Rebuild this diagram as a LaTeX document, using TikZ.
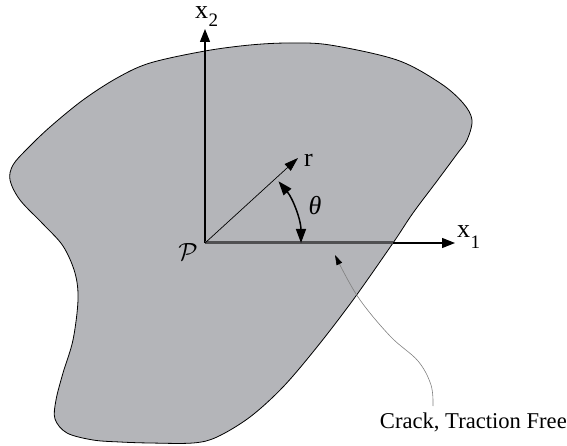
\documentclass[tikz,border=0pt]{standalone}
\usepackage{fontspec}
\setmainfont{Liberation Serif}
\usetikzlibrary{arrows.meta}
\definecolor{blobfill}{RGB}{180,181,185}
\definecolor{crackcol}{RGB}{80,80,82}
\tikzset{
  axisline/.style={line width=1.1pt,-{Triangle[length=13pt,width=10pt]}},
  rline/.style={line width=0.7pt,-{Triangle[length=14pt,width=9pt]}},
  arcline/.style={line width=1.5pt,{Triangle[length=14pt,width=10pt]}-{Triangle[length=14pt,width=10pt]}},
  leader/.style={line width=0.6pt,color=black!50,-{Triangle[length=10pt,width=6pt,color=black]}},
  lbl/.style={inner sep=0pt,anchor=base west,font=\fontsize{26}{30}\selectfont},
  subl/.style={inner sep=0pt,anchor=base west,font=\fontsize{19}{22}\selectfont},
}
\begin{document}
\begin{tikzpicture}[x=1pt,y=-1pt]
\useasboundingbox (0,0) rectangle (567,446);
% body
\draw[line width=0.8pt,fill=blobfill] plot[smooth cycle,tension=0.55] coordinates {
(289,43) (330,45) (397,60) (440,83) (463,103) (472,120) (467,140) (457,154)
(437,181) (413,213) (393,243) (353,300) (317,347) (283,387) (250,417) (217,437)
(193,443) (150,443) (120,442) (93,440) (67,433) (55,419) (56,400) (63,373)
(73,340) (78,300) (75,273) (63,246) (43,224) (20,200) (10,180) (13,165)
(27,149) (50,127) (83,100) (117,78) (150,63) (205,51) (250,45)};
% coordinates
\coordinate (O) at (205,243);
\coordinate (X2) at (205,29);
\coordinate (X1) at (455,243);
\coordinate (CE) at (393,243);
\coordinate (R) at (298,158);
\coordinate (TA) at (301,243);
\coordinate (TB) at (278.5,181.3);
\coordinate (LT) at (335,255);
% axes
\draw[axisline] (O) -- (X2);
\draw[axisline] (O) -- (X1);
\draw[line width=3pt,color=crackcol] (O) -- (CE);
\draw[rline] (O) -- (R);
\draw[arcline] (TB) .. controls (293.0,198.6) and (301,220.4) .. (TA);
% labels
\node[lbl] (lx2) at (195,19) {x};
\node[subl] (lx2s) at (208.5,27) {2};
\node[lbl] (lx1) at (457,238) {x};
\node[subl] (lx1s) at (470.5,248) {1};
\node[lbl] (lr) at (304,167) {r};
\node[lbl,anchor=center] (lth) at (315,206) {\textit{θ}};
\node[inner sep=0pt,font=\fontsize{27}{30}\selectfont] (lp) at (188,252) {$\mathcal{P}$};
\node[inner sep=0pt,anchor=base east,font=\fontsize{22.6}{26}\selectfont] (txt) at (567,428) {Crack, Traction Free};
\coordinate (LS) at (433,406);
\draw[leader] plot[smooth,tension=0.6] coordinates {(LS) (431,385) (418,361) (390,336) (358,297) (LT)};
\end{tikzpicture}
\end{document}
